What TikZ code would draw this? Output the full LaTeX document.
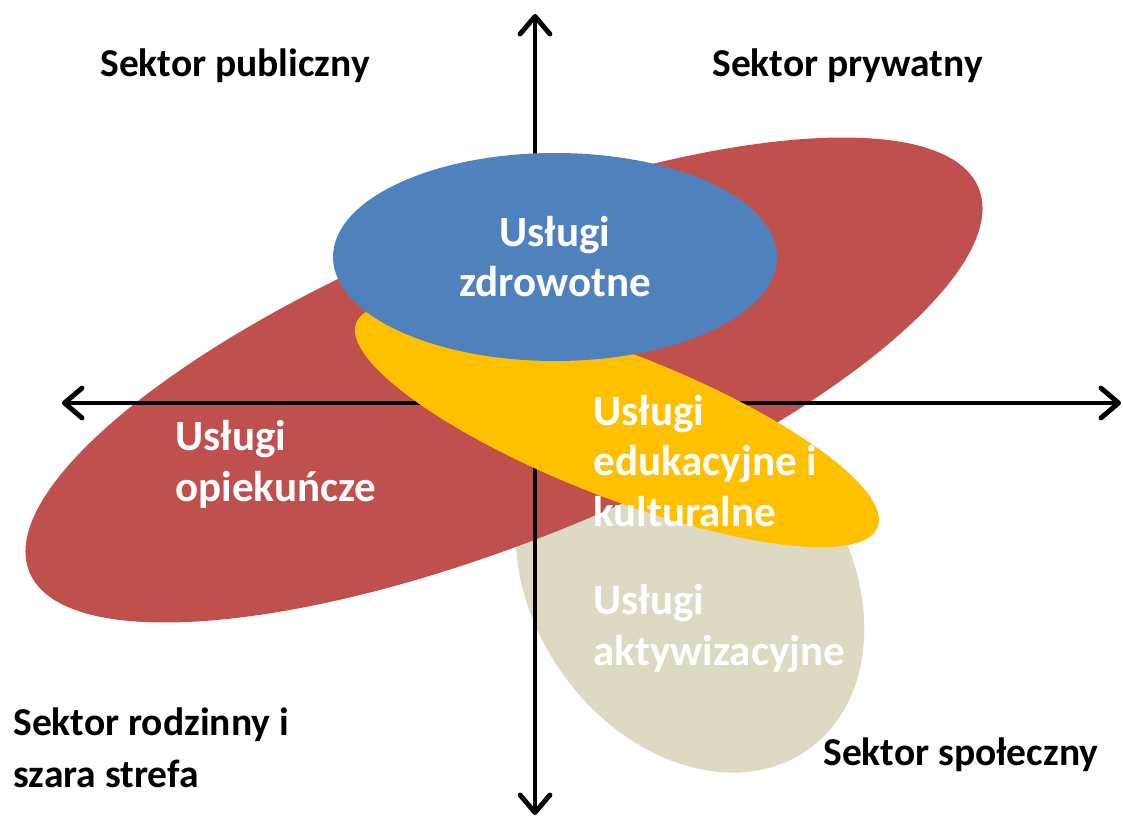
\documentclass[tikz,border=0pt]{standalone}
\usepackage{fontspec}
\setmainfont{Carlito}
\usetikzlibrary{arrows.meta}
\definecolor{opiekred}{HTML}{C0504D}
\definecolor{zdrowblue}{HTML}{4F81BD}
\definecolor{edukyellow}{HTML}{FFC000}
\definecolor{aktywgray}{HTML}{DDD9C3}
\begin{document}
\begin{tikzpicture}[x=0.02cm, y=-0.02cm, >={Straight Barb[length=10pt,width=17pt,round]},
    axis/.style={line width=2.8pt, line cap=round},
    sektor/.style={inner sep=0pt, font=\fontsize{22.5}{29.5}\selectfont\bfseries},
    usluga/.style={inner sep=0pt, text=white, font=\fontsize{24.5}{28.5}\selectfont\bfseries}]
    \useasboundingbox (0,0) rectangle (1123,817);
    \coordinate (R) at (504,380);
    \coordinate (B) at (555,257);
    \coordinate (Y) at (617,425);
    \coordinate (G) at (690,582);
    \coordinate (N) at (535,14);
    \coordinate (S) at (535,815);
    \coordinate (W) at (62,403);
    \coordinate (E) at (1121,403);
    \fill [aktywgray, rotate around={-55:(G)}] (G) ellipse [x radius=205, y radius=157];
    \fill [opiekred, rotate around={22:(R)}] (R) ellipse [x radius=512, y radius=160];
    \draw [axis, <->] (W) -- (E);
    \draw [axis, <->] (S) -- (N);
    \fill [edukyellow, rotate around={-21.4:(Y)}] (Y) ellipse [x radius=280, y radius=72];
    \fill [zdrowblue] (B) ellipse [x radius=222, y radius=104];
    \node [sektor, anchor=base west] (publ) at (100,77) {Sektor publiczny};
    \node [sektor, anchor=base west] (pryw) at (712,77) {Sektor prywatny};
    \node [sektor, anchor=base west, align=left] (rodz) at (13,787) {Sektor rodzinny i\\szara strefa};
    \node [sektor, anchor=base west] (spol) at (823,765) {Sektor społeczny};
    \node [usluga, anchor=base, align=center] (zdrow) at (555,297) {Usługi\\zdrowotne};
    \node [usluga, anchor=base west, align=left] (opiek) at (175,501) {Usługi\\opiekuńcze};
    \node [usluga, anchor=base west, align=left] (eduk) at (593,526) {Usługi\\edukacyjne i\\kulturalne};
    \node [usluga, anchor=base west, align=left] (aktyw) at (593,665) {Usługi\\aktywizacyjne};
\end{tikzpicture}
\end{document}
